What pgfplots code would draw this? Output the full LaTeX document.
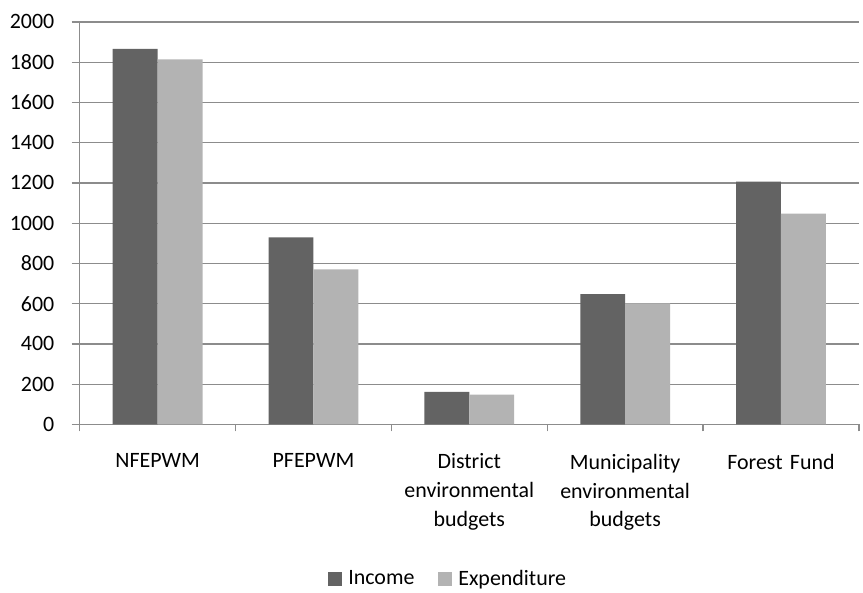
\documentclass[border=0pt]{standalone}
\usepackage{fontspec}
\setmainfont{Carlito}
\usepackage{pgfplots}
\pgfplotsset{compat=1.18}
\definecolor{incomegray}{HTML}{636363}
\definecolor{expgray}{HTML}{B3B3B3}
\definecolor{gridgray}{HTML}{8C8C8C}
\begin{document}
\fontsize{22}{29}\selectfont
\begin{tikzpicture}
\begin{axis}[
  style={/pgf/number format/assume math mode=true},
  scale only axis,
  width=782pt, height=404pt,
  ymin=0, ymax=2000,
  ytick={0,200,...,2000},
  xmin=-0.5, xmax=4.5,
  xtick={0,1,2,3,4},
  xticklabels={NFEPWM, PFEPWM, {District\\environmental\\budgets}, {Municipality\\environmental\\budgets}, Forest Fund},
  minor xtick={-0.5,0.5,1.5,2.5,3.5,4.5},
  xticklabel style={align=center, text width=150pt, font=\fontsize{22}{29}\selectfont, yshift=-14pt},
  yticklabel style={font=\fontsize{22}{29}\selectfont, xshift=-10pt},
  axis x line*=bottom,
  axis y line*=left,
  axis line style={draw=gridgray, line width=1.3pt},
  ymajorgrids,
  major grid style={draw=gridgray, line width=1.3pt},
  tick style={draw=gridgray, line width=1.3pt},
  tick align=outside,
  major x tick style={draw=none},
  major tick length=8pt,
  minor tick length=7pt,
  ytick style={draw=gridgray},
  scaled y ticks=false,
  yticklabel={\pgfmathprintnumber[fixed,1000 sep={}]{\tick}},
  ybar, bar width=0.288,
  legend style={draw=none, at={(axis description cs:0.473,-0.385)}, anchor=center,
    legend columns=-1, font=\fontsize{22}{29}\selectfont,
    /tikz/every odd column/.append style={column sep=4pt},
    /tikz/every even column/.append style={column sep=22pt}},
  legend image code/.code={\fill[#1] (0pt,-7pt) rectangle (14pt,7pt);},
]
\addplot[fill=incomegray, draw=none, bar shift=-0.144] coordinates {
  (0,1866) (1,929) (2,162) (3,647) (4,1206)
};
\addplot[fill=expgray, draw=none, bar shift=0.144] coordinates {
  (0,1814) (1,771) (2,148) (3,602) (4,1048)
};
\legend{Income, Expenditure}
\end{axis}
\path (current axis.south west) ++(-80pt,-163pt) rectangle ++(863pt,589pt);
\end{tikzpicture}
\end{document}
